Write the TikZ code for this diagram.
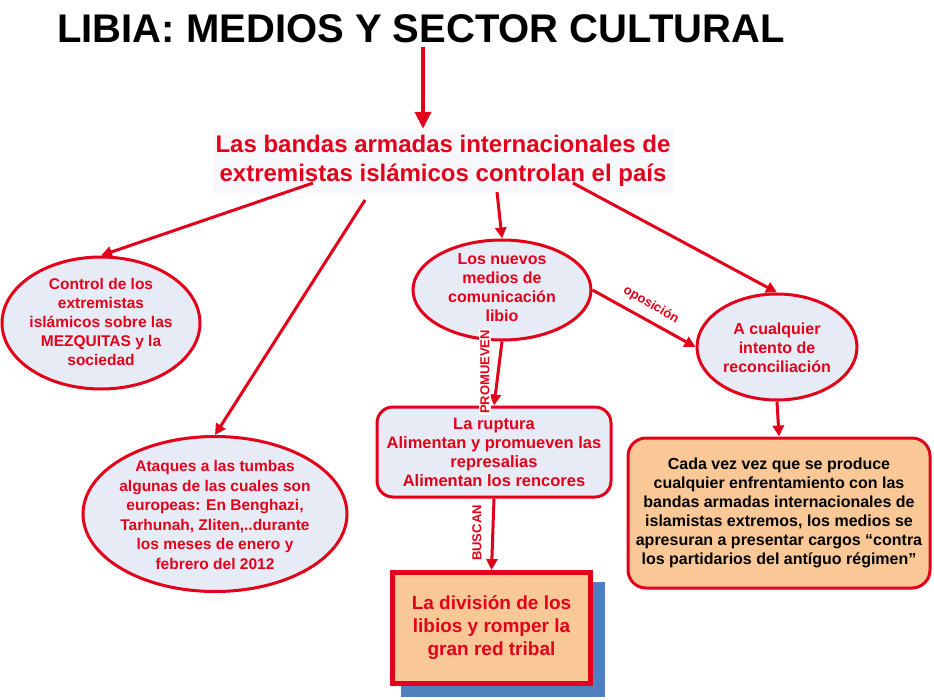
\documentclass[tikz,border=0pt]{standalone}
\usepackage{fontspec}
\setmainfont{Liberation Sans}
\usetikzlibrary{arrows.meta,shapes.geometric,shadows}
\definecolor{myred}{RGB}{226,0,26}
\definecolor{ellfill}{RGB}{230,235,245}
\definecolor{peach}{RGB}{250,200,150}
\definecolor{shadowblue}{RGB}{79,129,189}
\definecolor{mainbg}{RGB}{247,248,252}
\begin{document}
\begin{tikzpicture}[x=1pt,y=-1pt,
 ell/.style={ellipse, draw=myred, line width=3pt, fill=ellfill, inner sep=0pt},
 etext/.style={text=myred, font=\bfseries\fontsize{16}{19}\selectfont, align=center, inner sep=0pt},
 conn/.style={draw=myred, line width=3pt, -{Triangle[length=11pt,width=11pt]}},
 lbl/.style={text=myred, font=\bfseries\fontsize{13}{14}\selectfont, inner sep=1pt}
]
\useasboundingbox (0,0) rectangle (934,699);

% title
\node[font=\bfseries\fontsize{40}{48}\selectfont, inner sep=0pt] (title) at (421,29) {LIBIA: MEDIOS Y SECTOR CULTURAL};

% main statement
\node[fill=mainbg, text=myred, font=\bfseries\fontsize{24}{29}\selectfont, align=center,
      minimum width=460pt, minimum height=64pt, inner sep=0pt] (main) at (443,161)
      {Las bandas armadas internacionales de\\extremistas islámicos controlan el país};

% ellipses
\node[ell, minimum width=198pt, minimum height=132pt] (ctrl) at (101,323) {};
\node[etext, font=\bfseries\fontsize{15.5}{19}\selectfont] (ctrlT) at (101,322)
      {Control de los\\extremistas\\islámicos sobre las\\MEZQUITAS y la\\sociedad};

\node[ell, minimum width=264pt, minimum height=155pt] (ataq) at (215,514) {};
\node[etext, font=\bfseries\fontsize{15.5}{19.5}\selectfont] (ataqT) at (215,515)
      {Ataques a las tumbas\\algunas de las cuales son\\europeas: En Benghazi,\\Tarhunah, Zliten,..durante\\los meses de enero y\\febrero del 2012};

\node[ell, minimum width=178pt, minimum height=100pt] (nuev) at (502,290) {};
\node[etext] (nuevT) at (502,288) {Los nuevos\\medios de\\comunicación\\libio};

\node[ell, minimum width=160pt, minimum height=106pt] (acual) at (777,347) {};
\node[etext] (acualT) at (777,348) {A cualquier\\intento de\\reconciliación};

% boxes
\node[draw=myred, line width=3pt, fill=ellfill, rounded corners=16pt, minimum width=234pt,
      minimum height=90pt, text=myred, font=\bfseries\fontsize{16.5}{19}\selectfont,
      align=center, inner sep=0pt] (rupt) at (494,452)
      {La ruptura\\Alimentan y promueven las\\represalias\\Alimentan los rencores};

\node[draw=myred, line width=3pt, fill=peach, rounded corners=18pt, minimum width=302pt,
      minimum height=150pt, text=black, font=\bfseries\fontsize{16}{19}\selectfont,
      align=center, inner sep=0pt] (cada) at (779,513)
      {Cada vez vez que se produce\\cualquier enfrentamiento con las\\bandas armadas internacionales de\\islamistas extremos, los medios se\\apresuran a presentar cargos “contra\\los partidarios del antíguo régimen”};

\node[draw=myred, line width=5pt, fill=peach, minimum width=198pt, minimum height=111pt,
      text=myred, font=\bfseries\fontsize{19}{23}\selectfont, align=center, inner sep=0pt,
      drop shadow={shadow xshift=11pt, shadow yshift=-11pt, shadow scale=1.03, fill=shadowblue, opacity=1}]
      (divi) at (491.5,628) {La división de los\\libios y romper la\\gran red tribal};

% connectors
\coordinate (tA) at ([xshift=2pt,yshift=-4pt]title.south);
\coordinate (tB) at (tA |- main.north);
\draw[draw=myred, line width=4pt, -{Triangle[length=17pt,width=16pt]}] (tA) -- (tB);

\coordinate (s1) at (313,183);
\coordinate (s2) at (365,200);
\coordinate (s3) at (497,192);
\coordinate (s4) at (573,183);
\draw[conn] (s1) -- (ctrl.north);
\draw[conn] (s2) -- (ataq.north);
\draw[conn] (s3) -- (nuev.north);
\draw[conn] (s4) -- (acual.north);
\draw[conn] (nuev.south) -- (rupt.north);
\draw[conn] (rupt.south) -- (divi.north);
\draw[conn] (nuev.east) -- (acual.west);
\draw[conn] (acual.south) -- (cada.north);

% connector labels
\node[lbl, fill=white, rotate=90] (lprom) at (485,372) {PROMUEVEN};
\node[lbl, rotate=90] (lbus) at (477,533) {BUSCAN};
\node[lbl, rotate=-30] (lopo) at (651,305) {oposición};
\end{tikzpicture}
\end{document}
